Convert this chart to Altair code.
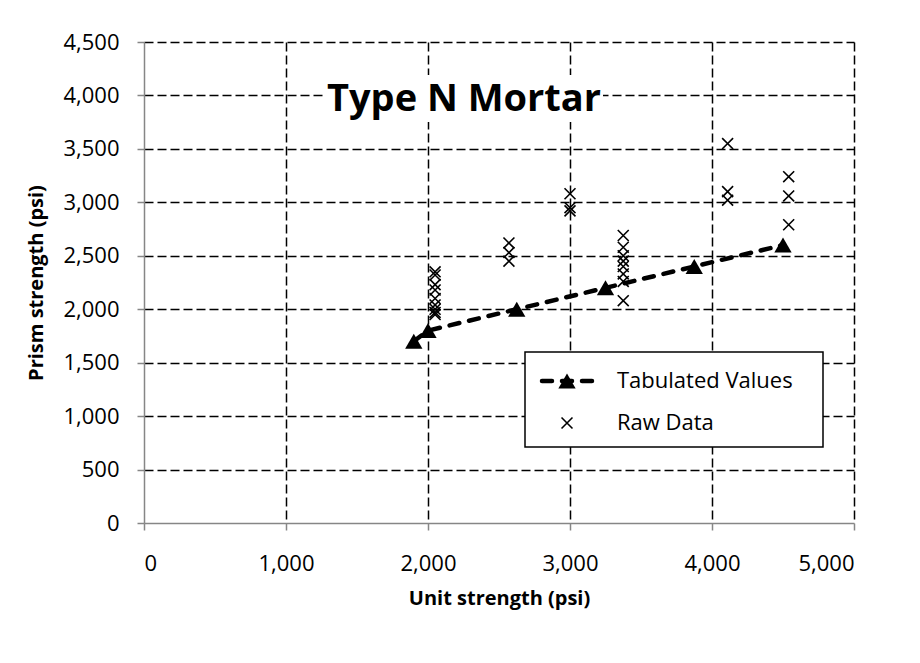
import altair as alt
import pandas as pd

# Tabulated values (unit strength, prism strength)
tab_x = [1900, 2000, 2625, 3250, 3875, 4500]
tab_y = [1700, 1800, 2000, 2200, 2400, 2600]

# Raw data clusters
raw_x = ([2050] * 9 + [2570] * 3 + [3000] * 3 + [3375] * 8 + [4110] * 3 + [4540] * 3)
raw_y = ([2350, 2320, 2230, 2180, 2100, 2040, 2000, 1970, 1950]
         + [2620, 2530, 2450]
         + [3080, 2950, 2920]
         + [2690, 2580, 2500, 2450, 2400, 2330, 2260, 2080]
         + [3550, 3100, 3020]
         + [3240, 3060, 2790])

x_ticks = [0, 1000, 2000, 3000, 4000, 5000]
y_ticks = [0, 500, 1000, 1500, 2000, 2500, 3000, 3500, 4000, 4500]

FONT = "Open Sans"
W, H = 710, 481

tab = pd.DataFrame({"u": tab_x, "p": tab_y})
raw = pd.DataFrame({"u": raw_x, "p": raw_y})
one = pd.DataFrame({"k": [0]})

xs = alt.Scale(domain=[0, 5000], nice=False, zero=False)
ys = alt.Scale(domain=[0, 4500], nice=False, zero=False)

axis_common = dict(
    format=",.0f",
    grid=True, gridColor="black", gridDash=[9, 4], gridWidth=1.5,
    gridOpacity={"condition": {"test": "datum.value == 0", "value": 0}, "value": 1},
    domainColor="#868686", domainWidth=1.5,
    tickColor="#868686", tickWidth=1.5, tickSize=7,
    labelFont=FONT, labelFontSize=22, labelColor="black",
    titleFont=FONT, titleFontSize=20, titleFontWeight="bold", titleColor="black",
)

X = alt.X("u:Q", scale=xs, axis=alt.Axis(values=x_ticks, title="Unit strength (psi)",
                                         labelPadding=23, titlePadding=14, **axis_common))
Y = alt.Y("p:Q", scale=ys, axis=alt.Axis(values=y_ticks, title="Prism strength (psi)",
                                         labelPadding=18, titlePadding=16, **axis_common))

line = alt.Chart(tab).mark_line(color="black", strokeWidth=4.5, strokeDash=[10, 10],
                                strokeCap="round").encode(x=X, y=Y)
tri = alt.Chart(tab).mark_point(shape="triangle-up", filled=True, size=300, color="black",
                                opacity=1).encode(x=X, y=Y)
XSHAPE = "M-1,-1L1,1M-1,1L1,-1"
pts = alt.Chart(raw).mark_point(shape=XSHAPE, size=120, color="black", strokeWidth=1.6,
                                filled=False, opacity=1).encode(x=X, y=Y)

# Title annotation
title_bg = alt.Chart(one).mark_rect(color="white").encode(
    x=alt.value(181), x2=alt.value(459), y=alt.value(33), y2=alt.value(80))
title_txt = alt.Chart(one).mark_text(text="Type N Mortar", font=FONT, fontSize=38,
                                     fontWeight="bold", color="black", align="center",
                                     baseline="middle").encode(x=alt.value(320), y=alt.value(58))

# Legend
leg_box = alt.Chart(one).mark_rect(fill="white", stroke="black", strokeWidth=1.5).encode(
    x=alt.value(381), x2=alt.value(679), y=alt.value(310), y2=alt.value(405))
leg_line = alt.Chart(one).mark_rule(color="black", strokeWidth=4.5, strokeDash=[10, 10],
                                    strokeCap="round").encode(
    x=alt.value(398), x2=alt.value(450), y=alt.value(339))
leg_tri = alt.Chart(one).mark_point(shape="triangle-up", filled=True, size=300, color="black",
                                    opacity=1).encode(x=alt.value(423), y=alt.value(339))
leg_x = alt.Chart(one).mark_point(shape=XSHAPE, size=120, color="black", strokeWidth=1.6,
                                  filled=False, opacity=1).encode(x=alt.value(423), y=alt.value(381))
leg_t1 = alt.Chart(one).mark_text(text="Tabulated Values", font=FONT, fontSize=22, align="left",
                                  baseline="middle", color="black").encode(x=alt.value(473), y=alt.value(339))
leg_t2 = alt.Chart(one).mark_text(text="Raw Data", font=FONT, fontSize=22, align="left",
                                  baseline="middle", color="black").encode(x=alt.value(473), y=alt.value(381))

chart = alt.layer(
    title_bg, title_txt, line, tri, pts,
    leg_box, leg_line, leg_tri, leg_x, leg_t1, leg_t2,
).properties(
    width=W, height=H,
    autosize=alt.AutoSizeParams(type="none"),
    padding={"left": 136, "top": 34, "right": 50, "bottom": 100},
    background="white",
).configure_view(strokeWidth=0)

chart.save("out.html", embed_options={"renderer": "svg", "actions": False})
